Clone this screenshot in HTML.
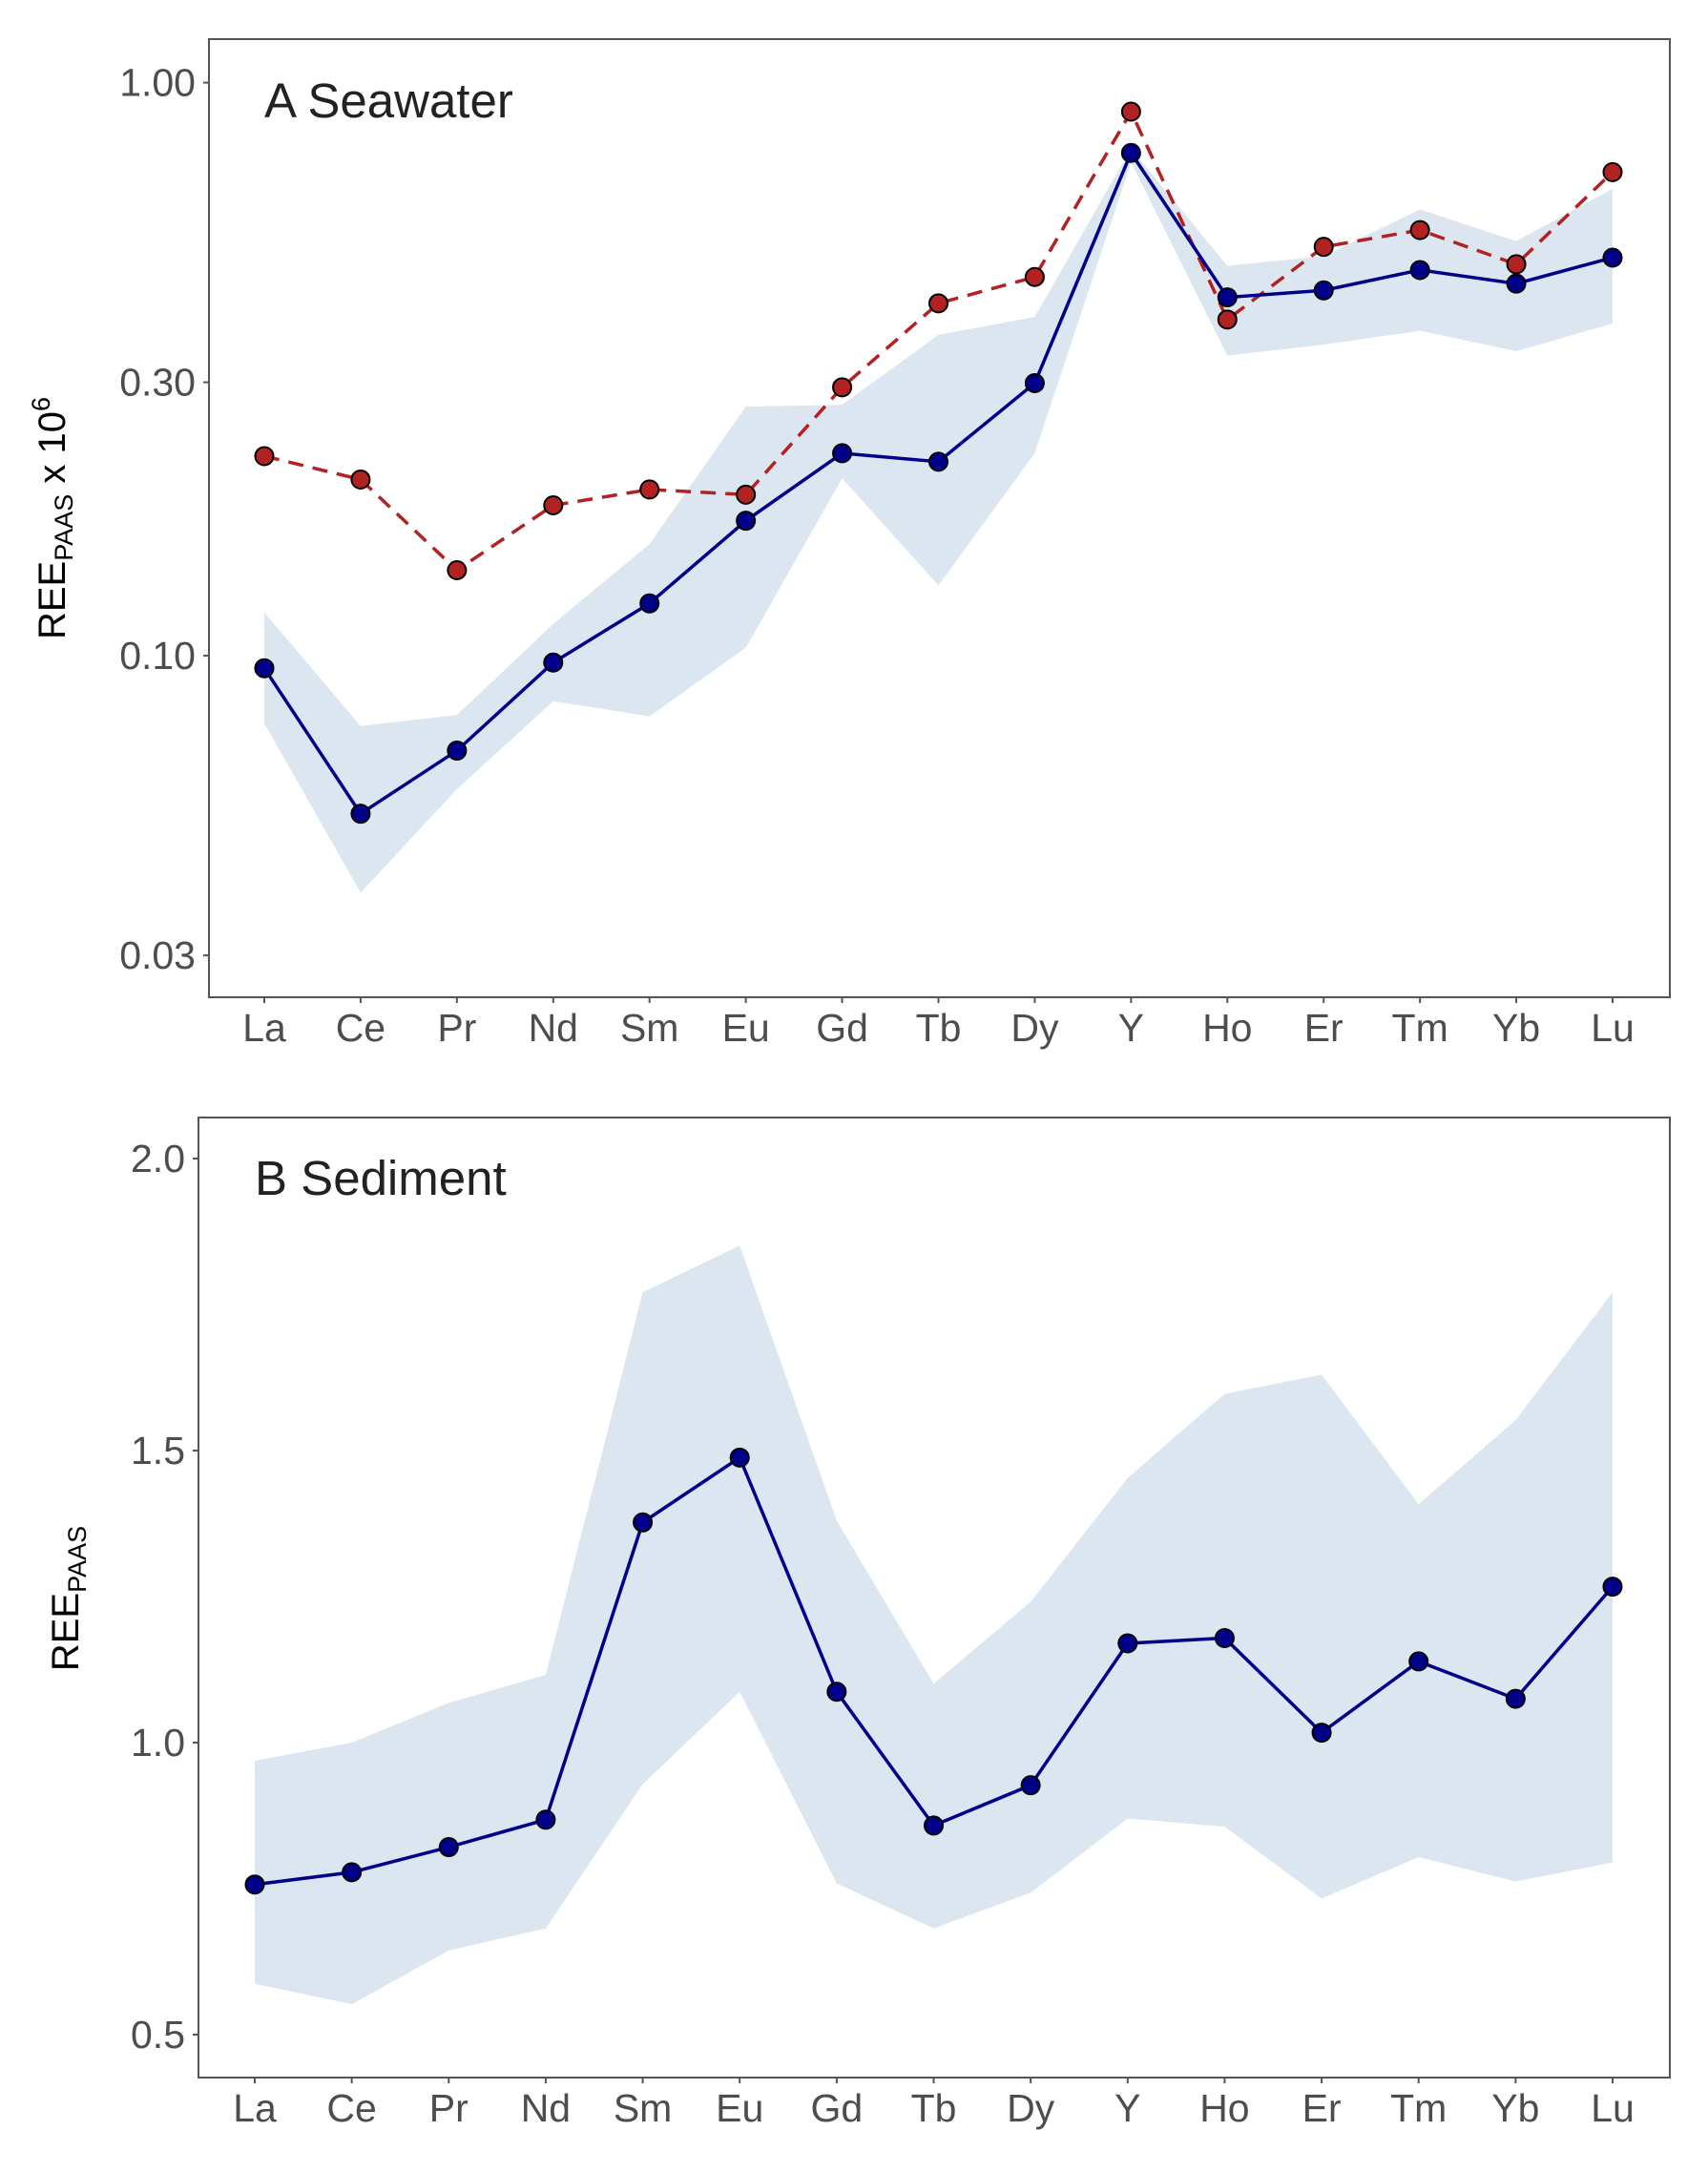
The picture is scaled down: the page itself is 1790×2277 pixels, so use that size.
<!DOCTYPE html>
<html><head><meta charset="utf-8"><style>
html,body{margin:0;padding:0;background:#fff;}
svg{display:block;}
text{font-family:"Liberation Sans Narrow","Liberation Sans",sans-serif;}
</style></head><body>
<svg id="chart" width="1790" height="2277" xmlns="http://www.w3.org/2000/svg">
<g id="pA"></g>
<g id="pB"></g>
</svg>
<script>
const elements = ["La","Ce","Pr","Nd","Sm","Eu","Gd","Tb","Dy","Y","Ho","Er","Tm","Yb","Lu"];
const seaMean = [0.0951,0.0530,0.0683,0.0973,0.1234,0.172,0.2256,0.218,0.299,0.754,0.422,0.434,0.471,0.446,0.495];
const seaRef = [0.223,0.203,0.141,0.183,0.195,0.191,0.294,0.412,0.458,0.890,0.386,0.517,0.553,0.482,0.698];
const seaUpper = [0.119,0.0754,0.0788,0.1136,0.1566,0.272,0.274,0.363,0.390,0.767,0.479,0.498,0.601,0.529,0.653];
const seaLower = [0.0762,0.0386,0.0585,0.0833,0.0784,0.1033,0.204,0.1326,0.2256,0.726,0.334,0.349,0.369,0.340,0.380];
const seaTicks = [1.0,0.3,0.1,0.03];
const seaTickLabels = ["1.00","0.30","0.10","0.03"];
const sedMean = [0.757,0.778,0.821,0.868,1.377,1.488,1.087,0.858,0.927,1.170,1.179,1.017,1.139,1.075,1.267];
const sedUpper = [0.969,1.0,1.068,1.116,1.771,1.851,1.380,1.101,1.241,1.453,1.597,1.630,1.408,1.552,1.771];
const sedLower = [0.587,0.552,0.644,0.682,0.929,1.087,0.759,0.682,0.743,0.870,0.856,0.733,0.804,0.762,0.795];
const sedTicks = [2.0,1.5,1.0,0.5];
const sedTickLabels = ["2.0","1.5","1.0","0.5"];

const NS="http://www.w3.org/2000/svg";
function mk(parent,tag,attrs,text){const e=document.createElementNS(NS,tag);for(const k in attrs)e.setAttribute(k,attrs[k]);if(text!==undefined)e.textContent=text;parent.appendChild(e);return e;}

function drawPanel(g,cfg){
  const xs=i=>cfg.x0+(cfg.x1-cfg.x0)*i/(elements.length-1);
  const ys=cfg.ys;
  // band
  let pts=[];
  cfg.upper.forEach((v,i)=>pts.push(xs(i)+","+ys(v)));
  for(let i=cfg.lower.length-1;i>=0;i--)pts.push(xs(i)+","+ys(cfg.lower[i]));
  const band=mk(g,"polygon",{points:pts.join(" "),fill:"#dce6f0",stroke:"none"});
  
  
  cfg.series.forEach(s=>{
    const d=s.vals.map((v,i)=>(i?"L":"M")+xs(i)+","+ys(v)).join(" ");
    const ln=mk(g,"path",{d:d,fill:"none",stroke:s.line,"stroke-width":3.5,"stroke-dasharray":s.dash||"none"});
    
    
  });
  cfg.series.forEach(s=>{
    s.vals.forEach((v,i)=>{
      const c=mk(g,"circle",{cx:xs(i),cy:ys(v),r:9.5,fill:s.fill,stroke:"#000","stroke-width":2});
      
      
    });
  });
  const box=mk(g,"rect",{x:cfg.bx0,y:cfg.by0,width:cfg.bx1-cfg.bx0,height:cfg.by1-cfg.by0,fill:"none",stroke:"#555","stroke-width":2});
  
  
  cfg.ticks.forEach((t,i)=>{
    const tl=mk(g,"text",{x:cfg.bx0-14,y:ys(t)+14,"text-anchor":"end","font-size":41,fill:"#4d4d4d"},cfg.tickLabels[i]);
    
    
    const tk=mk(g,"line",{x1:cfg.bx0-6,x2:cfg.bx0,y1:ys(t),y2:ys(t),stroke:"#555","stroke-width":2});
    
    
  });
  elements.forEach((e,i)=>{
    const xl=mk(g,"text",{x:xs(i),y:cfg.xlabY,"text-anchor":"middle","font-size":41,fill:"#4d4d4d"},e);
    
    
    const tk=mk(g,"line",{x1:xs(i),x2:xs(i),y1:cfg.by1,y2:cfg.by1+6,stroke:"#555","stroke-width":2});
    
    
  });
  const tt=mk(g,"text",{x:cfg.titleX,y:cfg.titleY,"font-size":51,fill:"#222"},cfg.title);
  
  
  const yt=mk(g,"text",{transform:"translate("+cfg.ytX+","+cfg.ytY+") rotate(-90)","text-anchor":"middle","font-size":40,fill:"#000","font-family":"Liberation Sans, sans-serif"});
  
  
  mk(yt,"tspan",{},"REE");
  mk(yt,"tspan",{"font-size":27,dy:8},"PAAS");
  if(cfg.sup){mk(yt,"tspan",{dy:-8}," x 10");mk(yt,"tspan",{"font-size":27,dy:-16},"6");}
}

drawPanel(document.getElementById("pA"),{
  x0:277,x1:1690,ys:v=>86.6-Math.log10(v)*600.5,
  upper:seaUpper,lower:seaLower,
  series:[{name:"seawater-reference",vals:seaRef,line:"#b22222",fill:"#b22222",dash:"16 10"},
          {name:"seawater-mean",vals:seaMean,line:"#00008b",fill:"#00008b"}],
  bx0:219,by0:41,bx1:1750,by1:1045,
  ticks:seaTicks,tickLabels:seaTickLabels,xlabY:1091,
  title:"A  Seawater",titleX:277,titleY:123,ytX:68,ytY:543,sup:true
});
drawPanel(document.getElementById("pB"),{
  x0:267,x1:1690,ys:v=>1214+(2-v)*612,
  upper:sedUpper,lower:sedLower,
  series:[{name:"sediment-mean",vals:sedMean,line:"#00008b",fill:"#00008b"}],
  bx0:208,by0:1171,bx1:1750,by1:2177,
  ticks:sedTicks,tickLabels:sedTickLabels,xlabY:2223,
  title:"B  Sediment",titleX:267,titleY:1252,ytX:82,ytY:1675,sup:false
});
</script>
</body></html>
